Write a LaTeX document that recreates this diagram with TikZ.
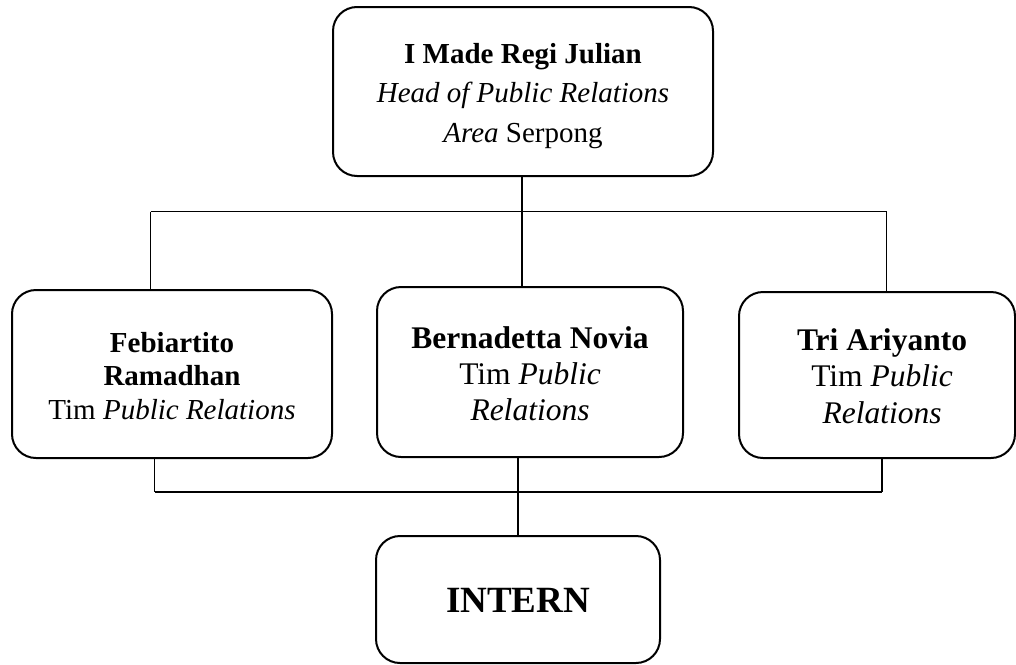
\documentclass[tikz,border=0pt]{standalone}
\usepackage{fontspec}
\setmainfont{Liberation Serif}

\begin{document}
\begin{tikzpicture}[x=1pt,y=-1pt,
    kotak/.style={draw=black,line width=2pt,rounded corners=24pt,inner sep=0pt},
    teks/.style={align=center,inner sep=0pt},
    garis/.style={draw=black,line width=1.6pt}]
    \useasboundingbox (0,0) rectangle (1016,664);

    % kotak
    \node[kotak,minimum width=380pt,minimum height=169pt] (head) at (523,91.5) {};
    \node[kotak,minimum width=320pt,minimum height=168pt] (febi) at (172,374) {};
    \node[kotak,minimum width=306pt,minimum height=170pt] (novia) at (530,372) {};
    \node[kotak,minimum width=276pt,minimum height=166pt] (tri) at (877,375) {};
    \node[kotak,minimum width=284pt,minimum height=127pt] (intern) at (518,599.5) {};

    % teks
    \node[teks,font=\fontsize{29}{39.5}\selectfont] (headtxt) at (523,95.9)
        {\textbf{I Made Regi Julian}\\ \textit{Head of Public Relations}\\ \textit{Area} Serpong};
    \node[teks,font=\fontsize{29}{33.5}\selectfont] (febitxt) at (172,375.7)
        {\textbf{Febiartito}\\ \textbf{Ramadhan}\\ Tim \textit{Public Relations}};
    \node[teks,font=\fontsize{31.5}{36}\selectfont] (noviatxt) at (530,373.4)
        {\textbf{Bernadetta Novia}\\ Tim \textit{Public}\\ \textit{Relations}};
    \node[teks,font=\fontsize{31.5}{36.5}\selectfont] (tritxt) at (882,375.9)
        {\textbf{Tri Ariyanto}\\ Tim \textit{Public}\\ \textit{Relations}};
    \node[teks,font=\fontsize{37}{44}\selectfont\bfseries] (interntxt) at (518,600.5) {INTERN};

    % garis atas
    \coordinate (atasL) at (150.5,211.5);
    \coordinate (atasM) at (522,211.5);
    \coordinate (atasR) at (886.5,211.5);
    \draw[garis] (atasL) -- (atasR);
    \draw[garis] (atasM |- head.south) -- (atasM);
    \draw[garis] (atasL) -- (atasL |- febi.north);
    \draw[garis] (atasM) -- (atasM |- novia.north);
    \draw[garis] (atasR) -- (atasR |- tri.north);

    % garis bawah
    \coordinate (bawahL) at (154.5,492);
    \coordinate (bawahM) at (518,492);
    \coordinate (bawahR) at (882,492);
    \draw[garis] (bawahL) -- (bawahR);
    \draw[garis] (bawahL |- febi.south) -- (bawahL);
    \draw[garis] (bawahM |- novia.south) -- (bawahM);
    \draw[garis] (bawahR |- tri.south) -- (bawahR);
    \draw[garis] (bawahM) -- (bawahM |- intern.north);
\end{tikzpicture}
\end{document}
